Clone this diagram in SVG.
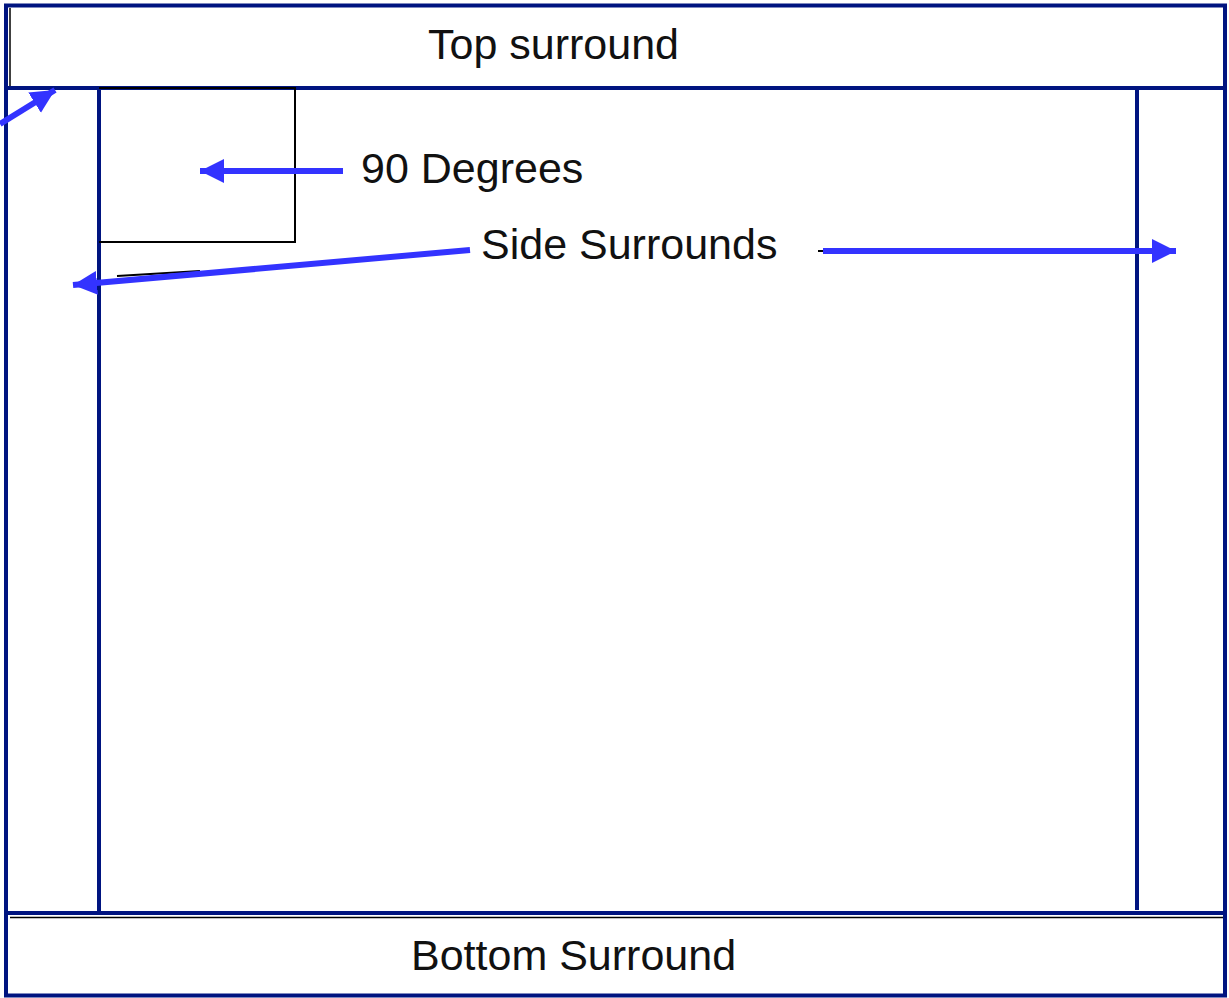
<svg xmlns="http://www.w3.org/2000/svg" width="1229" height="998" viewBox="0 0 1229 998">
  <style>
    .frame { fill: none; stroke: #001480; stroke-width: 4; }
    .lbl { font-family: "Liberation Sans", Arial, sans-serif; font-size: 43px; fill: #111; }
    .arrow { stroke: #3333ff; stroke-width: 6; fill: none; marker-end: url(#head); }
    .thin { stroke: #000; stroke-width: 2; fill: none; }
  </style>
  <defs>
    <marker id="head" markerUnits="userSpaceOnUse" markerWidth="26" markerHeight="26" refX="24" refY="12" orient="auto">
      <path d="M0,0 L24,12 L0,24 z" fill="#3333ff"/>
    </marker>
  </defs>
  <rect x="0" y="0" width="1229" height="998" fill="#ffffff"/>

  <g id="outer-frame">
    <rect class="frame" x="6" y="5.5" width="1219" height="990"/>
    <line x1="10" y1="8" x2="10" y2="86" stroke="#000" stroke-width="1.5"/>
  </g>

  <g id="top-surround">
    <line class="frame" x1="6" y1="88" x2="1225" y2="88"/>
    <text class="lbl" x="428" y="59">Top surround</text>
  </g>

  <g id="side-surrounds">
    <line class="frame" x1="99" y1="88" x2="99" y2="912"/>
    <line class="frame" x1="1137" y1="88" x2="1137" y2="910"/>
    <text class="lbl" x="481" y="259">Side Surrounds</text>
  </g>

  <g id="bottom-surround">
    <line class="frame" x1="6" y1="913" x2="1225" y2="913" stroke-width="6"/>
    <line x1="10" y1="917.5" x2="1223" y2="917.5" stroke="#000" stroke-width="1.5"/>
    <text class="lbl" x="411" y="970">Bottom Surround</text>
  </g>

  <g id="corner-90">
    <path class="thin" d="M99,88 H295 V242 H99"/>
    <text class="lbl" x="361" y="183">90 Degrees</text>
  </g>

  <g id="connectors">
    <line class="thin" x1="818" y1="251" x2="1150" y2="251"/>
    <line class="thin" x1="117" y1="276" x2="200" y2="271"/>
    <line class="arrow" x1="0" y1="124" x2="55" y2="90"/>
    <line class="arrow" x1="343" y1="171" x2="200" y2="171"/>
    <line class="arrow" x1="470" y1="250" x2="73" y2="285"/>
    <line class="arrow" x1="823" y1="251" x2="1176" y2="251"/>
  </g>
</svg>
